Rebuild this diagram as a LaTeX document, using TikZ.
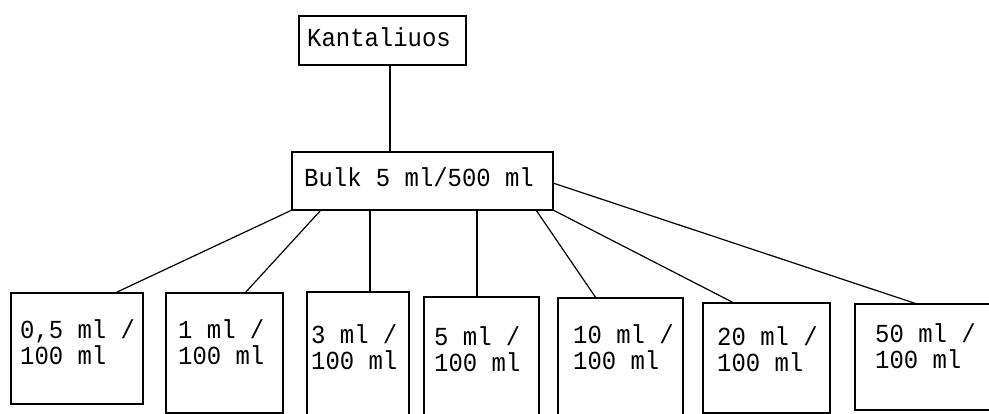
\documentclass[tikz,border=0pt]{standalone}
\usepackage{fontspec}
\newfontfamily\monof{Liberation Mono}[FakeStretch=0.92]
\begin{document}
\begin{tikzpicture}[x=1pt,y=-1pt,
  box/.style={draw,line width=1.4pt,inner sep=0pt,outer sep=0pt},
  lbl/.style={font=\monof\fontsize{26}{26}\selectfont,inner sep=0pt,align=left,anchor=base west},
  conn/.style={line width=1.2pt}]
\useasboundingbox[fill=white] (0,0) rectangle (989,414);
% boxes
\node[box,minimum width=167pt,minimum height=49pt] (k) at (382.5,40.5) {};
\node[box,minimum width=261pt,minimum height=58pt] (bulk) at (422.5,181) {};
\node[box,minimum width=132pt,minimum height=111pt] (b1) at (77,348.5) {};
\node[box,minimum width=117pt,minimum height=120pt] (b2) at (224.5,353) {};
\node[box,minimum width=102pt,minimum height=133pt] (b3) at (358,358.5) {};
\node[box,minimum width=115pt,minimum height=128pt] (b4) at (481.5,361) {};
\node[box,minimum width=125pt,minimum height=127pt] (b5) at (620.5,361.5) {};
\node[box,minimum width=127pt,minimum height=110pt] (b6) at (766.5,358) {};
\node[box,minimum width=140pt,minimum height=106pt] (b7) at (925,357) {};
% texts (anchor = baseline of the last line)
\node[lbl] (tk) at (307,47) {Kantaliuos};
\node[lbl] (tb) at (304,187) {Bulk 5 ml/500 ml};
\node[lbl] (t1) at (20,364) {0,5 ml /\\100 ml};
\node[lbl] (t2) at (178,364) {1 ml /\\100 ml};
\node[lbl] (t3) at (311,370) {3 ml /\\100 ml};
\node[lbl] (t4) at (434,372) {5 ml /\\100 ml};
\node[lbl] (t5) at (573,370) {10 ml /\\100 ml};
\node[lbl] (t6) at (717,372) {20 ml /\\100 ml};
\node[lbl] (t7) at (875,369) {50 ml /\\100 ml};
% connectors
\coordinate (kx) at (390,0);
\coordinate (l3) at (370,0);
\coordinate (l4) at (477,0);
\draw[conn] (k.south -| kx) -- (bulk.north -| kx);
\draw[conn] (bulk.south west) -- ([xshift=38pt]b1.north);
\draw[conn] ([xshift=29pt]bulk.south west) -- ([xshift=20.5pt]b2.north);
\draw[conn] (bulk.south -| l3) -- (b3.north -| l3);
\draw[conn] (bulk.south -| l4) -- (b4.north -| l4);
\draw[conn] ([xshift=-17pt]bulk.south east) -- ([xshift=-24.5pt]b5.north);
\draw[conn] (bulk.south east) -- ([xshift=-32.5pt]b6.north);
\draw[conn] ([yshift=-2pt]bulk.east) -- ([xshift=-8pt]b7.north);
\end{tikzpicture}
\end{document}
